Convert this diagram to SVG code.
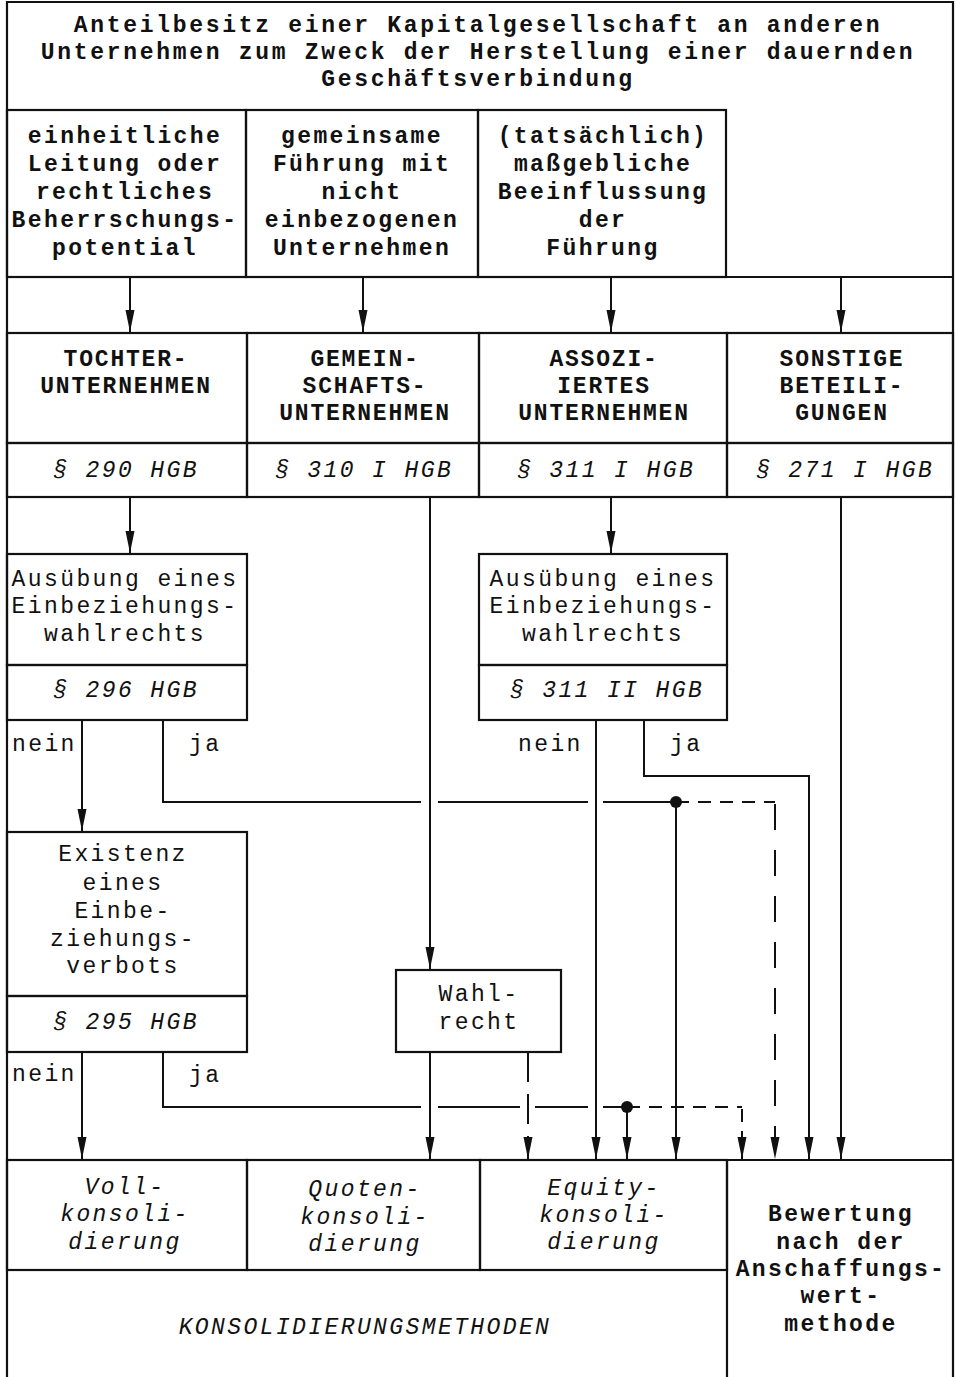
<svg xmlns="http://www.w3.org/2000/svg" width="955" height="1377" viewBox="0 0 955 1377">
<style>
  .box{fill:none;stroke:#111;stroke-width:2.2}
  .ln{fill:none;stroke:#111;stroke-width:2}
  .dh{fill:none;stroke:#111;stroke-width:2;stroke-dasharray:13 9}
  .dv{fill:none;stroke:#111;stroke-width:2;stroke-dasharray:26 20}
  .dw{fill:none;stroke:#111;stroke-width:2;stroke-dasharray:30 12}
  text{font-family:"Liberation Mono","DejaVu Sans Mono",monospace;fill:#111;text-anchor:middle;font-size:23px;letter-spacing:2.4px}
  .b{font-weight:bold}
  .h{letter-spacing:2.7px;font-weight:bold}
  .cap{letter-spacing:1.8px;font-weight:bold}
  .i{font-style:italic}
  .l{text-anchor:start}
</style>
<defs>
  <marker id="ar" viewBox="0 0 22 10" refX="22" refY="5" markerWidth="22" markerHeight="10" markerUnits="userSpaceOnUse" orient="auto">
    <path d="M0,0.5 L22,5 L0,9.5 Z" fill="#111"/>
  </marker>
</defs>
<rect width="955" height="1377" fill="#fff"/>

<g id="frame">
  <path class="box" d="M7,1377 V2 H953 V1377"/>
  <line class="box" x1="7" y1="277" x2="953" y2="277"/>
  <line class="box" x1="7" y1="333" x2="953" y2="333"/>
  <line class="box" x1="7" y1="497" x2="953" y2="497"/>
  <line class="box" x1="7" y1="1160" x2="953" y2="1160"/>
</g>

<g id="header">
  <text class="h" x="478" y="32">Anteilbesitz einer Kapitalgesellschaft an anderen</text>
  <text class="h" x="478" y="59">Unternehmen zum Zweck der Herstellung einer dauernden</text>
  <text class="h" x="478" y="86">Geschäftsverbindung</text>
</g>

<g id="crit1">
  <rect class="box" x="7" y="110" width="239" height="167"/>
  <text class="b" x="125" y="143">einheitliche</text>
  <text class="b" x="125" y="171">Leitung oder</text>
  <text class="b" x="125" y="199">rechtliches</text>
  <text class="b" x="125" y="227">Beherrschungs-</text>
  <text class="b" x="125" y="255">potential</text>
</g>
<g id="crit2">
  <rect class="box" x="246" y="110" width="232" height="167"/>
  <text class="b" x="362" y="143">gemeinsame</text>
  <text class="b" x="362" y="171">Führung mit</text>
  <text class="b" x="362" y="199">nicht</text>
  <text class="b" x="362" y="227">einbezogenen</text>
  <text class="b" x="362" y="255">Unternehmen</text>
</g>
<g id="crit3">
  <rect class="box" x="478" y="110" width="248" height="167"/>
  <text class="b" x="603" y="143">(tatsächlich)</text>
  <text class="b" x="603" y="171">maßgebliche</text>
  <text class="b" x="603" y="199">Beeinflussung</text>
  <text class="b" x="603" y="227">der</text>
  <text class="b" x="603" y="255">Führung</text>
</g>

<g id="tochter">
  <rect class="box" x="7" y="333" width="240" height="110"/>
  <rect class="box" x="7" y="443" width="240" height="54"/>
  <text class="cap" x="126" y="366">TOCHTER-</text>
  <text class="cap" x="126" y="393">UNTERNEHMEN</text>
  <text class="i" x="126" y="477">§ 290 HGB</text>
</g>
<g id="gemein">
  <rect class="box" x="247" y="333" width="232" height="110"/>
  <rect class="box" x="247" y="443" width="232" height="54"/>
  <text class="cap" x="365" y="366">GEMEIN-</text>
  <text class="cap" x="365" y="393">SCHAFTS-</text>
  <text class="cap" x="365" y="420">UNTERNEHMEN</text>
  <text class="i" x="364" y="477">§ 310 I HGB</text>
</g>
<g id="assoz">
  <rect class="box" x="479" y="333" width="248" height="110"/>
  <rect class="box" x="479" y="443" width="248" height="54"/>
  <text class="cap" x="604" y="366">ASSOZI-</text>
  <text class="cap" x="604" y="393">IERTES</text>
  <text class="cap" x="604" y="420">UNTERNEHMEN</text>
  <text class="i" x="606" y="477">§ 311 I HGB</text>
</g>
<g id="sonstige">
  <rect class="box" x="727" y="333" width="226" height="110"/>
  <rect class="box" x="727" y="443" width="226" height="54"/>
  <text class="cap" x="842" y="366">SONSTIGE</text>
  <text class="cap" x="842" y="393">BETEILI-</text>
  <text class="cap" x="842" y="420">GUNGEN</text>
  <text class="i" x="845" y="477">§ 271 I HGB</text>
</g>

<g id="wahl1">
  <rect class="box" x="7" y="554" width="240" height="111"/>
  <rect class="box" x="7" y="665" width="240" height="55"/>
  <text x="125" y="586">Ausübung eines</text>
  <text x="125" y="613">Einbeziehungs-</text>
  <text x="125" y="641">wahlrechts</text>
  <text class="i" x="126" y="697">§ 296 HGB</text>
</g>
<g id="wahl2">
  <rect class="box" x="479" y="554" width="248" height="111"/>
  <rect class="box" x="479" y="665" width="248" height="55"/>
  <text x="603" y="586">Ausübung eines</text>
  <text x="603" y="613">Einbeziehungs-</text>
  <text x="603" y="641">wahlrechts</text>
  <text class="i" x="607" y="697">§ 311 II HGB</text>
</g>

<g id="verbot">
  <rect class="box" x="7" y="832" width="240" height="164"/>
  <rect class="box" x="7" y="996" width="240" height="56"/>
  <text x="123" y="861">Existenz</text>
  <text x="123" y="890">eines</text>
  <text x="123" y="918">Einbe-</text>
  <text x="123" y="946">ziehungs-</text>
  <text x="123" y="973">verbots</text>
  <text class="i" x="126" y="1029">§ 295 HGB</text>
</g>

<g id="wahlrecht">
  <rect class="box" x="396" y="970" width="165" height="82"/>
  <text x="479" y="1001">Wahl-</text>
  <text x="479" y="1029">recht</text>
</g>

<g id="labels">
  <text class="l" x="12" y="751">nein</text>
  <text class="l" x="189" y="751">ja</text>
  <text class="l" x="518" y="751">nein</text>
  <text class="l" x="670" y="751">ja</text>
  <text class="l" x="12" y="1081">nein</text>
  <text class="l" x="189" y="1082">ja</text>
</g>

<g id="voll">
  <rect class="box" x="7" y="1160" width="240" height="110"/>
  <text class="i" x="125" y="1194">Voll-</text>
  <text class="i" x="125" y="1221">konsoli-</text>
  <text class="i" x="125" y="1249">dierung</text>
</g>
<g id="quoten">
  <rect class="box" x="247" y="1160" width="233" height="110"/>
  <text class="i" x="365" y="1196">Quoten-</text>
  <text class="i" x="365" y="1224">konsoli-</text>
  <text class="i" x="365" y="1251">dierung</text>
</g>
<g id="equity">
  <rect class="box" x="480" y="1160" width="247" height="110"/>
  <text class="i" x="604" y="1195">Equity-</text>
  <text class="i" x="604" y="1222">konsoli-</text>
  <text class="i" x="604" y="1249">dierung</text>
</g>
<g id="bewertung">
  <path class="box" d="M727,1160 V1377"/>
  <text class="b" x="841" y="1221">Bewertung</text>
  <text class="b" x="841" y="1249">nach der</text>
  <text class="b" x="841" y="1276">Anschaffungs-</text>
  <text class="b" x="841" y="1303">wert-</text>
  <text class="b" x="841" y="1331">methode</text>
</g>
<g id="methoden">
  <path class="box" d="M7,1270 H727"/>
  <text class="i" x="365" y="1334">KONSOLIDIERUNGSMETHODEN</text>
</g>

<g id="connectors">
  <line class="ln" x1="130" y1="277" x2="130" y2="332" marker-end="url(#ar)"/>
  <line class="ln" x1="363" y1="277" x2="363" y2="332" marker-end="url(#ar)"/>
  <line class="ln" x1="611" y1="277" x2="611" y2="332" marker-end="url(#ar)"/>
  <line class="ln" x1="841" y1="277" x2="841" y2="332" marker-end="url(#ar)"/>

  <line class="ln" x1="130" y1="497" x2="130" y2="553" marker-end="url(#ar)"/>
  <line class="ln" x1="611" y1="497" x2="611" y2="553" marker-end="url(#ar)"/>
  <line class="ln" x1="430" y1="497" x2="430" y2="969" marker-end="url(#ar)"/>
  <line class="ln" x1="841" y1="497" x2="841" y2="1159" marker-end="url(#ar)"/>

  <line class="ln" x1="82" y1="720" x2="82" y2="831" marker-end="url(#ar)"/>
  <path class="ln" d="M163,720 V802 H421 M438,802 H588 M603,802 H676"/>
  <path class="dh" d="M676,802 H775"/>
  <line class="dv" x1="775" y1="804" x2="775" y2="1159" marker-end="url(#ar)"/>
  <circle cx="676" cy="802" r="6" fill="#111"/>
  <line class="ln" x1="676" y1="802" x2="676" y2="1159" marker-end="url(#ar)"/>

  <line class="ln" x1="596" y1="720" x2="596" y2="1159" marker-end="url(#ar)"/>
  <path class="ln" d="M644,720 V776 H809 V1159" marker-end="url(#ar)"/>

  <line class="ln" x1="82" y1="1052" x2="82" y2="1159" marker-end="url(#ar)"/>
  <path class="ln" d="M163,1052 V1107 H421 M438,1107 H520 M535,1107 H588 M603,1107 H627"/>
  <path class="dh" d="M627,1107 H742"/>
  <line class="dh" x1="742" y1="1109" x2="742" y2="1159" marker-end="url(#ar)"/>
  <circle cx="627" cy="1107" r="6" fill="#111"/>
  <line class="ln" x1="627" y1="1107" x2="627" y2="1159" marker-end="url(#ar)"/>

  <line class="ln" x1="430" y1="1052" x2="430" y2="1159" marker-end="url(#ar)"/>
  <line class="dw" x1="528" y1="1052" x2="528" y2="1159" marker-end="url(#ar)"/>
</g>
</svg>
